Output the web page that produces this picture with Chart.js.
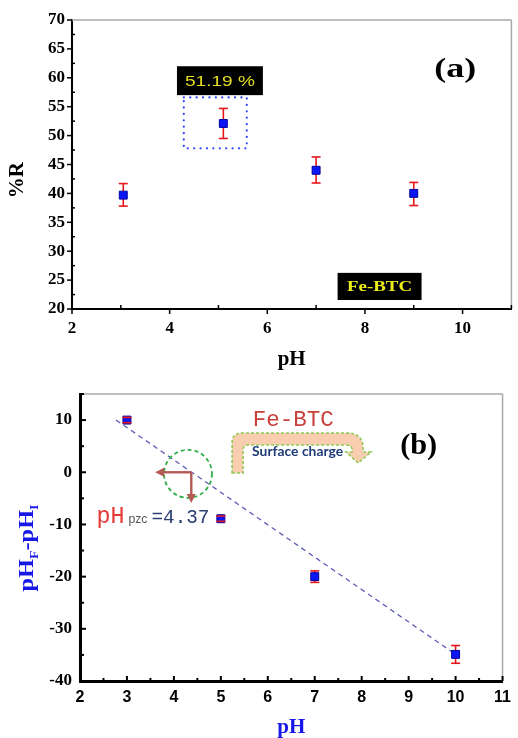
<!DOCTYPE html>
<html><head><meta charset="utf-8">
<script src="https://cdn.jsdelivr.net/npm/chart.js@4.4.1/dist/chart.umd.min.js"></script>
<style>
html,body{margin:0;padding:0;background:#fff;}
#wrap{position:relative;width:518px;height:738px;overflow:hidden;background:#fff;}
#ca{position:absolute;left:0;top:0;}
#cb{position:absolute;left:0;top:370px;}
</style></head><body>
<div id="wrap"><canvas id="ca" width="518" height="370"></canvas><canvas id="cb" width="518" height="368"></canvas></div>
<script>
// ---------- Panel (a): %R vs pH ----------
const phA = [3.05, 5.1, 7.0, 9.0];
const removalA = [39.7, 52.1, 44.0, 40.0];
const removalErrUp = [2.0, 2.6, 2.3, 1.9];
const removalErrDown = [1.9, 2.6, 2.2, 2.1];
const xTicksA = [2, 4, 6, 8, 10];
const xMinorA = [3, 5, 7, 9, 11];
const yTicksA = [20, 25, 30, 35, 40, 45, 50, 55, 60, 65, 70];
const yMinorA = [22.5, 27.5, 32.5, 37.5, 42.5, 47.5, 52.5, 57.5, 62.5, 67.5];
const bestLabel = '51.19 %';

// ---------- Panel (b): pHF - pHI vs pH ----------
const phB = [3, 5, 7, 10];
const deltaB = [10, -8.9, -20, -34.9];
const deltaErrUp = [0.5, 0.5, 1.1, 1.7];
const deltaErrDown = [0.5, 0.5, 1.1, 1.7];
const fitX = [2.77, 10];
const fitY = [10, -34.9];
const xTicksB = [2, 3, 4, 5, 6, 7, 8, 9, 10, 11];
const xMinorB = [2.5, 3.5, 4.5, 5.5, 6.5, 7.5, 8.5, 9.5, 10.5];
const yTicksB = [-40, -30, -20, -10, 0, 10];
const yMinorB = [-35, -25, -15, -5, 5, 15];
const pzcValue = 4.37;
const pzcLabel = '=4.37';

const SERIF = '"Liberation Serif", "Times New Roman", serif';
const SANS = '"Liberation Sans", Arial, sans-serif';
const MONO = '"Liberation Mono", "Courier New", monospace';

function fitText(ctx, text, x, y, font, color, targetW, align, baseline) {
  ctx.save();
  ctx.font = font;
  const w = ctx.measureText(text).width;
  const sx = targetW ? targetW / w : 1;
  ctx.translate(x, y);
  ctx.scale(sx, 1);
  ctx.fillStyle = color;
  ctx.textBaseline = baseline || 'middle';
  ctx.textAlign = 'left';
  let dx = 0;
  if (align === 'center') dx = -w / 2;
  else if (align === 'right') dx = -w;
  ctx.fillText(text, dx, 0);
  ctx.restore();
  return w * sx;
}
function seg(ctx, x1, y1, x2, y2) { ctx.beginPath(); ctx.moveTo(x1, y1); ctx.lineTo(x2, y2); ctx.stroke(); }

function errorBars(xsArr, ysArr, up, down, color) {
  return {
    id: 'errbars',
    beforeDatasetsDraw(chart) {
      const { ctx, scales: { x, y } } = chart;
      ctx.save(); ctx.strokeStyle = color; ctx.lineWidth = 1.6;
      xsArr.forEach((v, i) => {
        const px = x.getPixelForValue(v);
        seg(ctx, px, y.getPixelForValue(ysArr[i] + up[i]), px, y.getPixelForValue(ysArr[i] - down[i]));
      });
      ctx.restore();
    },
    afterDatasetsDraw(chart) {
      const { ctx, scales: { x, y } } = chart;
      ctx.save(); ctx.strokeStyle = color; ctx.lineWidth = 1.6;
      xsArr.forEach((v, i) => {
        const px = x.getPixelForValue(v);
        const t = y.getPixelForValue(ysArr[i] + up[i]), b = y.getPixelForValue(ysArr[i] - down[i]);
        seg(ctx, px - 4.5, t, px + 4.5, t); seg(ctx, px - 4.5, b, px + 4.5, b);
      });
      ctx.restore();
    }
  };
}

function ticksAndFrame(cfg) {
  return {
    id: 'ticksframe',
    afterDraw(chart) {
      const { ctx, chartArea: a, scales: { x, y } } = chart;
      ctx.save();
      ctx.strokeStyle = '#a8a8a8'; ctx.lineWidth = 1.5;
      seg(ctx, a.left, a.top, a.right, a.top);
      seg(ctx, a.right, a.top, a.right, a.bottom);
      ctx.strokeStyle = '#000'; ctx.lineWidth = cfg.w;
      cfg.xMajor.forEach(v => { const p = x.getPixelForValue(v); seg(ctx, p, a.bottom, p, a.bottom + cfg.xMajorLen); });
      cfg.xMinor.forEach(v => { const p = x.getPixelForValue(v); seg(ctx, p, a.bottom, p, a.bottom + cfg.xMinorLen); });
      cfg.yMajor.forEach(v => { const p = y.getPixelForValue(v); seg(ctx, a.left, p, a.left - cfg.yMajorLen, p); });
      cfg.yMinor.forEach(v => { const p = y.getPixelForValue(v); seg(ctx, a.left, p, a.left - cfg.yMinorLen, p); });
      ctx.restore();
    }
  };
}

const annotA = {
  id: 'annotA',
  afterDraw(chart) {
    const { ctx, scales: { x, y } } = chart;
    const X = v => x.getPixelForValue(v), Y = v => y.getPixelForValue(v);
    ctx.save();
    // black label box with best removal
    ctx.fillStyle = '#000';
    ctx.fillRect(X(4.15), Y(62.0), X(5.91) - X(4.15), Y(57.0) - Y(62.0));
    fitText(ctx, bestLabel, (X(4.15) + X(5.91)) / 2, (Y(62.0) + Y(57.0)) / 2 + 1, '15px ' + SANS, '#e4df22', 70, 'center');
    // dotted highlight rectangle
    ctx.strokeStyle = '#3346ff'; ctx.lineWidth = 2.2; ctx.lineCap = 'round';
    ctx.setLineDash([0.1, 6.3]);
    ctx.strokeRect(X(4.29), Y(56.6), X(5.58) - X(4.29), Y(47.8) - Y(56.6));
    ctx.setLineDash([]);
    // (a)
    fitText(ctx, '(a)', X(9.85), Y(61.3), 'bold 27px ' + SERIF, '#000', 42, 'center');
    // Fe-BTC box
    ctx.fillStyle = '#000';
    ctx.fillRect(X(7.44), Y(26.25), X(9.16) - X(7.44), Y(21.56) - Y(26.25));
    fitText(ctx, 'Fe-BTC', (X(7.44) + X(9.16)) / 2, (Y(26.25) + Y(21.56)) / 2 + 1, 'bold 15px ' + SERIF, '#ecec1c', 65, 'center');
    ctx.restore();
  }
};

const annotB = {
  id: 'annotB',
  afterDraw(chart) {
    const { ctx, scales: { x, y } } = chart;
    const X = v => x.getPixelForValue(v), Y = v => y.getPixelForValue(v);
    ctx.save();
    // Fe-BTC red mono text
    fitText(ctx, 'Fe-BTC', X(5.68), Y(10.0), '22px ' + MONO, '#c9403b', 81, 'left');
    // U-turn arrow "Surface charge"
    const ox = X(5.24), oy = Y(7.53);
    ctx.save();
    ctx.translate(ox, oy);
    ctx.beginPath();
    ctx.moveTo(0, 40); ctx.lineTo(0, 10); ctx.quadraticCurveTo(0, 0, 10, 0);
    ctx.lineTo(114, 0); ctx.quadraticCurveTo(131, 0, 131, 15);
    ctx.lineTo(131, 19); ctx.lineTo(139, 19); ctx.lineTo(126, 30); ctx.lineTo(114, 19);
    ctx.lineTo(120, 19); ctx.lineTo(120, 17); ctx.quadraticCurveTo(120, 12, 114, 12);
    ctx.lineTo(16, 12); ctx.quadraticCurveTo(11, 12, 11, 17); ctx.lineTo(11, 40); ctx.closePath();
    ctx.fillStyle = '#f8cdb0'; ctx.fill();
    ctx.setLineDash([3, 2]); ctx.strokeStyle = '#8fcb55'; ctx.lineWidth = 1.6; ctx.stroke();
    ctx.setLineDash([]);
    ctx.restore();
    fitText(ctx, 'Surface charge', ox + 20, oy + 19, 'bold 13px Lato, ' + SANS, '#1f3b78', 91, 'left');
    // (b)
    fitText(ctx, '(b)', X(8.82), Y(4.85), 'bold 29px ' + SERIF, '#000', 37, 'left');
    // green dashed circle around pzc
    ctx.strokeStyle = '#2fae48'; ctx.lineWidth = 1.8; ctx.setLineDash([4, 3]);
    ctx.beginPath(); ctx.arc(X(4.3), Y(-0.3), 24, 0, Math.PI * 2); ctx.stroke();
    ctx.setLineDash([]);
    // brown arrows from pzc point
    const cx = X(pzcValue), cy = Y(0);
    ctx.strokeStyle = '#b45a55'; ctx.fillStyle = '#b45a55'; ctx.lineWidth = 2.4;
    const hx = X(3.6), vy = Y(-5.9);
    seg(ctx, cx, cy, hx + 7, cy);
    ctx.beginPath(); ctx.moveTo(hx, cy); ctx.lineTo(hx + 9, cy - 4.5); ctx.lineTo(hx + 9, cy + 4.5); ctx.closePath(); ctx.fill();
    seg(ctx, cx, cy, cx, vy - 7);
    ctx.beginPath(); ctx.moveTo(cx, vy); ctx.lineTo(cx - 4.5, vy - 9); ctx.lineTo(cx + 4.5, vy - 9); ctx.closePath(); ctx.fill();
    // pHpzc = 4.37
    const bx = X(2.35), by = Y(-9.7);
    fitText(ctx, 'pH', bx, by, '23px ' + MONO, '#e53a35', 28, 'left', 'alphabetic');
    fitText(ctx, 'pzc', bx + 32, by, '12px ' + SANS, '#555', 19, 'left', 'alphabetic');
    fitText(ctx, pzcLabel, bx + 55, by, '20px ' + MONO, '#2b3f73', 58, 'left', 'alphabetic');
    ctx.restore();

    // y axis title with subscripts
    const a = chart.chartArea;
    ctx.save();
    ctx.translate(26, 178);
    ctx.rotate(-Math.PI / 2);
    const big = 'bold 21px ' + SERIF, small = 'bold 12px ' + SERIF;
    const parts = [['pH', big, 0], ['F', small, 5], ['-pH', big, 0], ['I', small, 5]];
    let total = 0;
    parts.forEach(p => { ctx.font = p[1]; p.push(ctx.measureText(p[0]).width); total += p[3]; });
    const sx = 87 / total;
    ctx.scale(sx, 1);
    ctx.fillStyle = '#1717e8';
    ctx.textBaseline = 'alphabetic'; ctx.textAlign = 'left';
    let cxp = -total / 2;
    parts.forEach(p => { ctx.font = p[1]; ctx.fillText(p[0], cxp, 7 + p[2]); cxp += p[3]; });
    ctx.restore();
  }
};

const ptStyle = { pointStyle: 'rect', pointRadius: 5.6, pointHoverRadius: 5.6, pointBackgroundColor: '#0b16f4', pointBorderColor: '#0000a0', pointBorderWidth: 1 };

// ---------- Chart (a) ----------
new Chart(document.getElementById('ca'), {
  type: 'scatter',
  data: { datasets: [Object.assign({ label: '%R', data: phA.map((v, i) => ({ x: v, y: removalA[i] })) }, ptStyle)] },
  options: {
    responsive: false, animation: false, devicePixelRatio: 1,
    layout: { padding: { top: 20, right: 6, left: 0, bottom: 0 } },
    plugins: { legend: { display: false }, tooltip: { enabled: false } },
    scales: {
      x: {
        type: 'linear', min: 2, max: 11,
        afterBuildTicks: s => { s.ticks = xTicksA.map(v => ({ value: v })); },
        afterFit: s => { s.height = 61; },
        grid: { display: false, drawTicks: false },
        border: { display: true, color: '#000', width: 2 },
        ticks: { padding: 9, color: '#000', font: { family: SERIF, size: 17, weight: 'bold' } },
        title: { display: true, text: 'pH', color: '#000', padding: 0, font: { family: SERIF, size: 21, weight: 'bold', lineHeight: 1 } }
      },
      y: {
        min: 20, max: 70,
        afterBuildTicks: s => { s.ticks = yTicksA.map(v => ({ value: v })); },
        afterFit: s => { s.width = 72; },
        grid: { display: false, drawTicks: false },
        border: { display: true, color: '#000', width: 2 },
        ticks: { padding: 7, color: '#000', font: { family: SERIF, size: 17, weight: 'bold' } },
        title: { display: true, text: '%R      ', color: '#000', padding: { top: 7.5, bottom: 0 }, font: { family: SERIF, size: 21, weight: 'bold', lineHeight: 1 } }
      }
    }
  },
  plugins: [errorBars(phA, removalA, removalErrUp, removalErrDown, '#e8161b'),
    ticksAndFrame({ w: 1.5, xMajor: xTicksA, xMinor: xMinorA, yMajor: yTicksA, yMinor: yMinorA, xMajorLen: 5, xMinorLen: -4, yMajorLen: 5, yMinorLen: -3 }),
    annotA]
});

// ---------- Chart (b) ----------
new Chart(document.getElementById('cb'), {
  type: 'scatter',
  data: {
    datasets: [
      Object.assign({ label: 'pHF-pHI', order: 1, data: phB.map((v, i) => ({ x: v, y: deltaB[i] })) }, ptStyle),
      { type: 'line', label: 'fit', order: 2, data: fitX.map((v, i) => ({ x: v, y: fitY[i] })), borderColor: '#5e5eb8', borderWidth: 1.3, borderDash: [5, 4], pointRadius: 0, fill: false }
    ]
  },
  options: {
    responsive: false, animation: false, devicePixelRatio: 1,
    layout: { padding: { top: 24, right: 5, left: 0, bottom: 0 } },
    plugins: { legend: { display: false }, tooltip: { enabled: false } },
    scales: {
      x: {
        type: 'linear', min: 2, max: 11,
        afterBuildTicks: s => { s.ticks = xTicksB.map(v => ({ value: v })); },
        afterFit: s => { s.height = 57; },
        grid: { display: false, drawTicks: false },
        border: { display: true, color: '#000', width: 3 },
        ticks: { padding: 7, color: '#000', font: { family: SANS, size: 16, weight: 'bold' } },
        title: { display: true, text: 'pH', color: '#1717e8', padding: 0, font: { family: SERIF, size: 21, weight: 'bold', lineHeight: 1 } }
      },
      y: {
        min: -40, max: 15,
        afterBuildTicks: s => { s.ticks = yTicksB.map(v => ({ value: v })); },
        afterFit: s => { s.width = 80; },
        grid: { display: false, drawTicks: false },
        border: { display: true, color: '#000', width: 3 },
        ticks: { padding: 8, color: '#000', font: { family: SERIF, size: 17, weight: 'bold' } }
      }
    }
  },
  plugins: [errorBars(phB, deltaB, deltaErrUp, deltaErrDown, '#e8161b'),
    ticksAndFrame({ w: 2, xMajor: xTicksB, xMinor: xMinorB, yMajor: yTicksB, yMinor: yMinorB, xMajorLen: -5, xMinorLen: -3, yMajorLen: -6, yMinorLen: -4 }),
    annotB]
});
</script>
</body></html>
